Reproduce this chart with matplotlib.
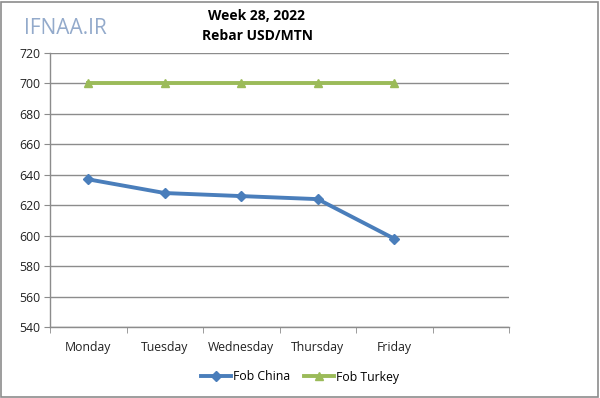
import numpy as np
import matplotlib
matplotlib.use("Agg")
import matplotlib.pyplot as plt
from matplotlib.patches import Rectangle

days = ["Monday", "Tuesday", "Wednesday", "Thursday", "Friday"]
fob_china = [637, 628, 626, 624, 598]
fob_turkey = [700, 700, 700, 700, 700]
yticks = [540, 560, 580, 600, 620, 640, 660, 680, 700, 720]

plt.rcParams['font.family'] = ['Open Sans', 'DejaVu Sans']

fig = plt.figure(figsize=(6.0, 3.98), dpi=100)
ax = fig.add_axes([50/600, 1-327/398, 459/600, 274/398])

x = np.arange(len(days))
ax.plot(x, fob_china, color='#4A7EBB', lw=2.8, marker='D', ms=5, label='Fob China')
ax.plot(x, fob_turkey, color='#9BBB59', lw=2.8, marker='^', ms=6, label='Fob Turkey')

# six category slots, last one empty
ax.set_xlim(-0.5, 5.5)
ax.set_ylim(540, 720)
ax.set_yticks(yticks)
ax.set_xticks(x)
ax.set_xticklabels(days, fontsize=8.8)
ax.set_xticks(np.arange(-0.5, 6, 1), minor=True)
ax.tick_params(axis='x', which='major', length=0, pad=10, colors='#222222')
ax.tick_params(axis='x', which='minor', length=4, color='#8c8c8c')
ax.tick_params(axis='y', length=4, color='#8c8c8c', labelsize=8.8, labelcolor='#222222', pad=3)
ax.grid(axis='y', color='#8c8c8c', lw=1.0)
ax.set_axisbelow(True)
for s in ['top', 'right']:
    ax.spines[s].set_visible(False)
for s in ['left', 'bottom']:
    ax.spines[s].set_color('#8c8c8c')
    ax.spines[s].set_linewidth(1.0)

fig.text(257/600, 1-16/398, "Week 28, 2022", ha='center', va='center', fontsize=10, fontweight='bold')
fig.text(257/600, 1-36/398, "Rebar USD/MTN", ha='center', va='center', fontsize=10, fontweight='bold')
fig.text(65/600, 1-29/398, "IFNAA.IR", ha='center', va='center', fontsize=15, color='#93aacb')

fig.legend(loc='center', bbox_to_anchor=(300/600, 1-377/398), ncol=2, frameon=False,
           fontsize=8.8, handlelength=2.4, columnspacing=1.2, handletextpad=0.15)

fig.patches.append(Rectangle((0.002, 0.002), 0.994, 0.994, transform=fig.transFigure,
                             fill=False, edgecolor='#8c8c8c', lw=1.2))

fig.savefig("out.png", dpi=100, facecolor='white')
